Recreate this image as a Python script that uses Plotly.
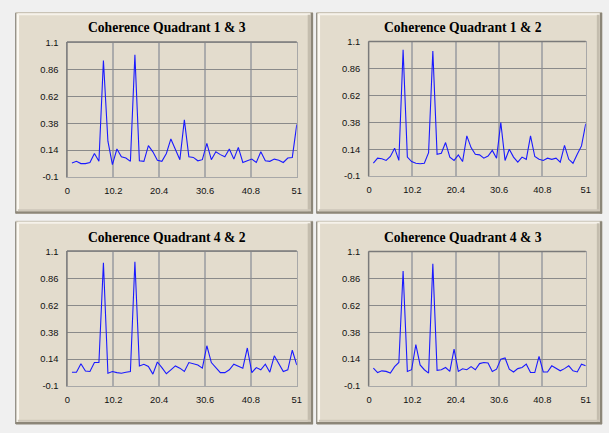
import plotly.graph_objects as go

# ---------------- data ----------------
x_values = list(range(1, 52))

coh_q13 = [0.025, 0.04, 0.02, 0.02, 0.03, 0.11, 0.04, 0.94, 0.22, 0.01,
           0.15, 0.08, 0.07, 0.04, 0.99, 0.045, 0.04, 0.18, 0.125, 0.05,
           0.04, 0.11, 0.24, 0.155, 0.055, 0.41, 0.08, 0.075, 0.045, 0.055,
           0.2, 0.055, 0.125, 0.1, 0.08, 0.15, 0.06, 0.165, 0.03, 0.045,
           0.06, 0.03, 0.125, 0.045, 0.04, 0.06, 0.05, 0.03, 0.07, 0.075, 0.37]

coh_q12 = [0.015, 0.06, 0.055, 0.04, 0.075, 0.15, 0.04, 1.03, 0.07, 0.03,
           0.015, 0.01, 0.015, 0.11, 1.02, 0.095, 0.105, 0.2, 0.07, 0.04,
           0.09, 0.03, 0.26, 0.155, 0.095, 0.09, 0.06, 0.08, 0.13, 0.06,
           0.38, 0.04, 0.14, 0.07, 0.025, 0.07, 0.05, 0.26, 0.075, 0.05,
           0.04, 0.06, 0.05, 0.06, 0.025, 0.175, 0.05, 0.015, 0.095, 0.17, 0.37]

coh_q42 = [0.024, 0.024, 0.10, 0.035, 0.03, 0.11, 0.11, 1.0, 0.015, 0.03,
           0.02, 0.015, 0.024, 0.03, 1.01, 0.08, 0.095, 0.075, 0.007, 0.115,
           0.065, 0.01, 0.045, 0.08, 0.06, 0.03, 0.11, 0.10, 0.088, 0.06,
           0.26, 0.11, 0.065, 0.02, 0.02, 0.045, 0.095, 0.08, 0.06, 0.24,
           0.02, 0.065, 0.045, 0.095, 0.024, 0.17, 0.10, 0.03, 0.045, 0.22, 0.088]

coh_q43 = [0.06, 0.02, 0.035, 0.03, 0.015, 0.073, 0.11, 0.93, 0.03, 0.045,
           0.27, 0.088, 0.045, 0.015, 0.995, 0.04, 0.045, 0.065, 0.03, 0.23,
           0.03, 0.053, 0.045, 0.073, 0.045, 0.1, 0.11, 0.105, 0.03, 0.05,
           0.14, 0.15, 0.05, 0.025, 0.055, 0.065, 0.095, 0.02, 0.02, 0.165,
           0.025, 0.025, 0.08, 0.055, 0.035, 0.055, 0.08, 0.035, 0.025, 0.095, 0.08]

titles = ["Coherence Quadrant 1 & 3", "Coherence Quadrant 1 & 2",
          "Coherence Quadrant 4 & 2", "Coherence Quadrant 4 & 3"]
series = [coh_q13, coh_q12, coh_q42, coh_q43]

x_ticks = [0, 10.2, 20.4, 30.6, 40.8, 51]
x_tick_labels = ["0", "10.2", "20.4", "30.6", "40.8", "51"]
y_ticks = [-0.1, 0.14, 0.38, 0.62, 0.86, 1.1]
y_tick_labels = ["-0.1", "0.14", "0.38", "0.62", "0.86", "1.1"]

# ---------------- layout geometry (pixels) ----------------
W, H = 609, 433
def px(x):
    return x / W
def py(y):
    return 1 - y / H

# panel boxes: (x0, y0, x1, y1)
panels = [(13, 7, 314, 213), (318, 7, 607, 213),
          (13, 221, 314, 429), (318, 221, 607, 429)]
# plot areas: (x0, y0, x1, y1)
plots = [(65.3, 37.5, 297.7, 175.5), (371, 37, 590.5, 174.5),
         (65.3, 252, 297.7, 390), (371, 252.5, 590.5, 389.8)]
title_pos = [(165.8, 22), (465.8, 22), (165.8, 237.5), (465.8, 237.5)]

BEIGE = "#e3dccd"
TICK_FONT = dict(family="Liberation Sans, Arial", size=9.4, color="#111111")
fig = go.Figure()
shapes = []
annotations = []

for i in range(4):
    x0, y0, x1, y1 = panels[i]
    # panel body
    shapes.append(dict(type="rect", xref="paper", yref="paper", layer="below",
                       x0=px(x0), x1=px(x1), y0=py(y1), y1=py(y0),
                       fillcolor=BEIGE, line=dict(width=0)))
    # 3D edges
    edge = [
        (x0, y0, x0, y1, "#8f8a80", 1.5),
        (x0, y0, x1, y0, "#c9c3b6", 1.5),
        (x0 + 2, y0 + 1, x0 + 2, y1 - 1, "#fbf8f1", 2.5),
        (x0 + 2, y0 + 1.5, x1 - 2, y0 + 1.5, "#f6f2ea", 2),
        (x1 - 1, y0, x1 - 1, y1, "#8c8678", 2.5),
        (x1 - 4, y0 + 2, x1 - 4, y1 - 2, "#c4bdae", 2.5),
        (x0, y1 - 1, x1, y1 - 1, "#8c8678", 2.5),
        (x0 + 2, y1 - 3.5, x1 - 2, y1 - 3.5, "#cdc6b8", 2),
    ]
    for ex0, ey0, ex1, ey1, col, w in edge:
        shapes.append(dict(type="line", xref="paper", yref="paper", layer="below",
                           x0=px(ex0), x1=px(ex1), y0=py(ey0), y1=py(ey1),
                           line=dict(color=col, width=w)))
    # plot area sunken frame (left/top darker)
    a0, b0, a1, b1 = plots[i]
    shapes.append(dict(type="line", xref="paper", yref="paper", layer="above",
                       x0=px(a0 - 0.5), x1=px(a0 - 0.5), y0=py(b1), y1=py(b0 - 0.5),
                       line=dict(color="#7a7a7a", width=1.5)))
    shapes.append(dict(type="line", xref="paper", yref="paper", layer="above",
                       x0=px(a0 - 0.5), x1=px(a1), y0=py(b0 - 0.5), y1=py(b0 - 0.5),
                       line=dict(color="#7a7a7a", width=1.5)))

    ax = "" if i == 0 else str(i + 1)
    fig.add_trace(go.Scatter(
        x=x_values, y=series[i], mode="lines",
        line=dict(color="#1a1aff", width=1.1),
        xaxis="x" + ax, yaxis="y" + ax, showlegend=False,
        hoverinfo="x+y"))

    fig.layout["xaxis" + ax] = dict(
        domain=[px(a0), px(a1)], range=[0, 51], anchor="y" + ax,
        tickmode="array", tickvals=x_ticks, ticktext=x_tick_labels,
        showgrid=True, gridcolor="#ababab", gridwidth=1.6,
        showline=True, linecolor="#a8a8a8", linewidth=1, mirror=True,
        zeroline=False, ticks="", ticklabelstandoff=5,
        tickfont=TICK_FONT, fixedrange=True)
    fig.layout["yaxis" + ax] = dict(
        domain=[py(b1), py(b0)], range=[-0.1, 1.1], anchor="x" + ax,
        tickmode="array", tickvals=y_ticks, ticktext=y_tick_labels,
        showgrid=True, gridcolor="#8a8a8a", gridwidth=1,
        showline=True, linecolor="#a8a8a8", linewidth=1, mirror=True,
        zeroline=False, ticks="", ticklabelstandoff=6,
        tickfont=TICK_FONT, fixedrange=True)

    tx, ty = title_pos[i]
    annotations.append(dict(text="<b>" + titles[i] + "</b>", xref="paper", yref="paper",
                            x=px(tx), y=py(ty), xanchor="center", yanchor="middle",
                            showarrow=False,
                            font=dict(family="Liberation Serif, Times New Roman", size=13.6,
                                      color="#000000")))

fig.update_layout(
    width=W, height=H, margin=dict(l=0, r=0, t=0, b=0),
    paper_bgcolor="#f0f0f0", plot_bgcolor="#ffffff",
    shapes=shapes, annotations=annotations, showlegend=False)

fig.write_html("out.html", config={"displayModeBar": False},
               post_script="document.body.style.margin='0px';"
                           "document.body.style.overflow='hidden';"
                           "document.body.style.background='#f0f0f0';")
